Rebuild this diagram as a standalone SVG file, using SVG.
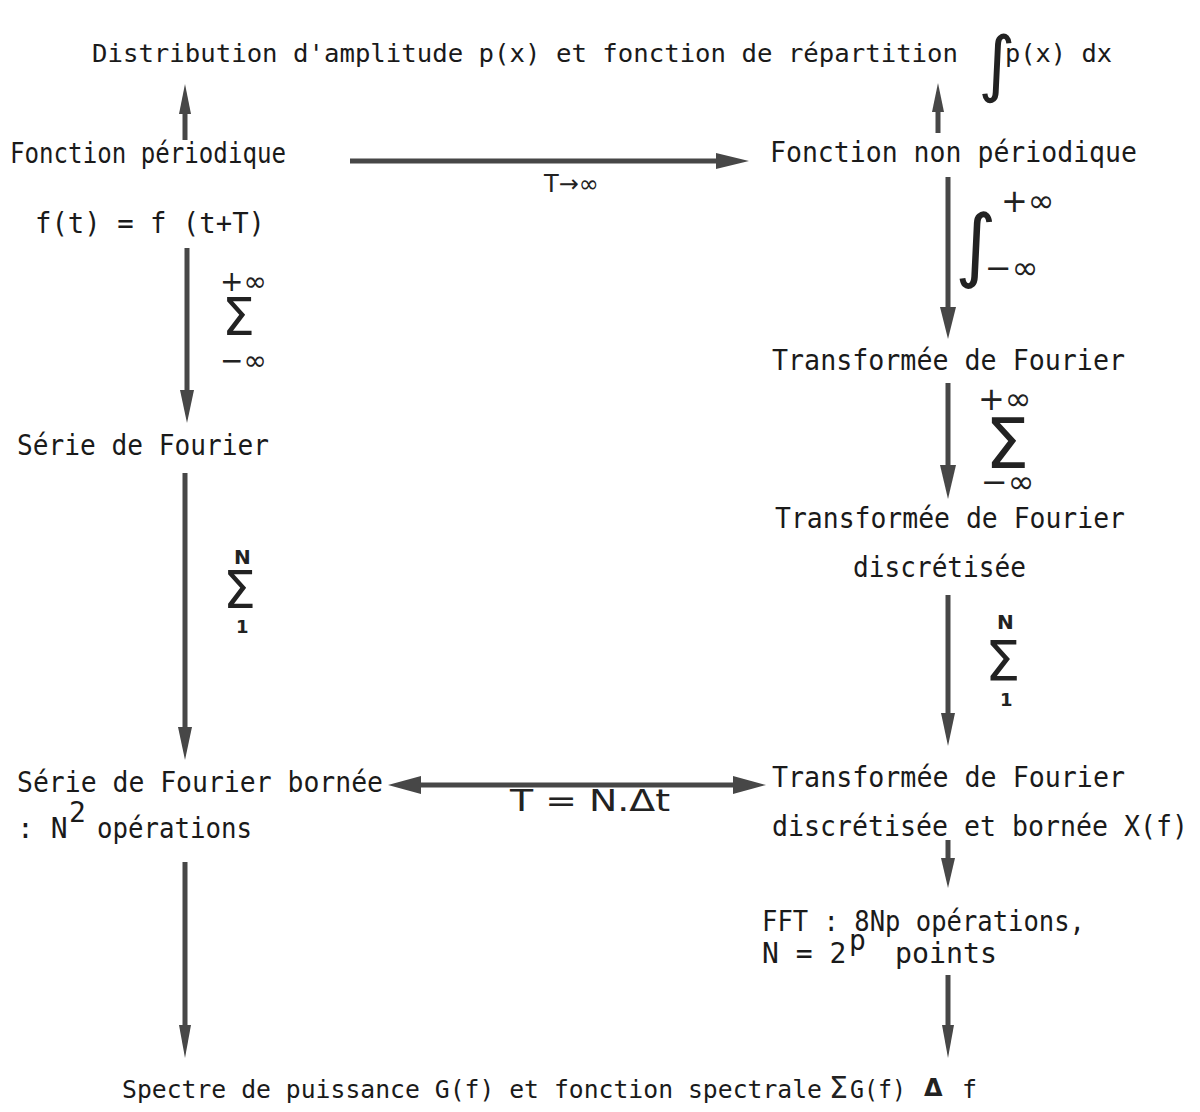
<svg xmlns="http://www.w3.org/2000/svg" width="1200" height="1112" viewBox="0 0 1200 1112">
<style>
.t{font-family:"DejaVu Sans Mono","Liberation Mono",monospace;font-size:28px;fill:#1a1a1a}
.s{font-family:"DejaVu Sans Mono","Liberation Mono",monospace;font-size:25px;fill:#1a1a1a}
.h{font-family:"DejaVu Sans","Liberation Sans",sans-serif;fill:#222}
.sh{stroke:#474747;stroke-width:5;fill:none}
.hd{fill:#474747}
</style>
<rect width="1200" height="1112" fill="#fff"/>

<g id="n-distribution">
<text class="s" x="92" y="62" textLength="866" lengthAdjust="spacingAndGlyphs">Distribution d'amplitude p(x) et fonction de répartition</text>
<text class="h" x="978" y="88" font-size="72" font-style="italic">∫</text>
<text class="s" x="1005" y="62" textLength="107" lengthAdjust="spacingAndGlyphs">p(x) dx</text>
</g>

<g id="n-periodique">
<text class="t" x="10" y="163" textLength="276" lengthAdjust="spacingAndGlyphs">Fonction périodique</text>
<text class="t" x="35" y="233" textLength="230" lengthAdjust="spacingAndGlyphs">f(t) = f (t+T)</text>
</g>

<g id="n-serie">
<text class="t" x="17" y="455" textLength="252" lengthAdjust="spacingAndGlyphs">Série de Fourier</text>
</g>

<g id="n-serie-bornee">
<text class="t" x="17" y="792" textLength="366" lengthAdjust="spacingAndGlyphs">Série de Fourier bornée</text>
<text class="t" x="17" y="838">: N</text>
<text class="t" x="69" y="822" font-size="22">2</text>
<text class="t" x="97" y="838" textLength="155" lengthAdjust="spacingAndGlyphs">opérations</text>
</g>

<g id="n-non-periodique">
<text class="t" x="770" y="162" textLength="367" lengthAdjust="spacingAndGlyphs">Fonction non périodique</text>
</g>

<g id="n-tf">
<text class="t" x="772" y="370" textLength="353" lengthAdjust="spacingAndGlyphs">Transformée de Fourier</text>
</g>

<g id="n-tfd">
<text class="t" x="775" y="528" textLength="350" lengthAdjust="spacingAndGlyphs">Transformée de Fourier</text>
<text class="t" x="853" y="577" textLength="173" lengthAdjust="spacingAndGlyphs">discrétisée</text>
</g>

<g id="n-tfdb">
<text class="t" x="772" y="787" textLength="353" lengthAdjust="spacingAndGlyphs">Transformée de Fourier</text>
<text class="t" x="772" y="836" textLength="416" lengthAdjust="spacingAndGlyphs">discrétisée et bornée X(f)</text>
</g>

<g id="n-fft">
<text class="t" x="762" y="931" textLength="323" lengthAdjust="spacingAndGlyphs">FFT : 8Np opérations,</text>
<text class="t" x="762" y="963">N = 2</text>
<text class="t" x="849" y="950" font-size="19">p</text>
<text class="t" x="895" y="963" textLength="102" lengthAdjust="spacingAndGlyphs">points</text>
</g>

<g id="n-spectre">
<text class="s" x="122" y="1098" textLength="700" lengthAdjust="spacingAndGlyphs">Spectre de puissance G(f) et fonction spectrale</text>
<text class="h" x="829" y="1098" font-size="30">Σ</text>
<text class="s" x="850" y="1098" textLength="56" lengthAdjust="spacingAndGlyphs">G(f)</text>
<text class="h" x="924" y="1096" font-size="24" font-weight="bold">Δ</text>
<text class="s" x="962" y="1098">f</text>
</g>

<g id="connectors">
<line class="sh" x1="185" y1="140" x2="185" y2="110"/>
<polygon class="hd" points="185,84 179,114 191,114"/>
<line class="sh" x1="187" y1="248" x2="187" y2="392"/>
<polygon class="hd" points="187,423 180,390 194,390"/>
<line class="sh" x1="185" y1="473" x2="185" y2="730"/>
<polygon class="hd" points="185,760 178,727 192,727"/>
<line class="sh" x1="185" y1="862" x2="185" y2="1028"/>
<polygon class="hd" points="185,1058 179,1025 191,1025"/>
<line class="sh" x1="938" y1="133" x2="938" y2="108"/>
<polygon class="hd" points="938,83 932,112 944,112"/>
<line class="sh" x1="948" y1="177" x2="948" y2="310"/>
<polygon class="hd" points="948,339 940,307 956,307"/>
<line class="sh" x1="948" y1="383" x2="948" y2="468"/>
<polygon class="hd" points="948,499 940,465 956,465"/>
<line class="sh" x1="948" y1="595" x2="948" y2="715"/>
<polygon class="hd" points="948,746 941,713 955,713"/>
<line class="sh" x1="948" y1="840" x2="948" y2="862"/>
<polygon class="hd" points="948,888 941,858 955,858"/>
<line class="sh" x1="948" y1="975" x2="948" y2="1028"/>
<polygon class="hd" points="948,1058 942,1025 954,1025"/>
<line class="sh" x1="350" y1="161" x2="720" y2="161" stroke-width="6"/>
<polygon class="hd" points="749,161 716,153 716,169"/>
<line class="sh" x1="418" y1="785" x2="735" y2="785" stroke-width="6"/>
<polygon class="hd" points="388,785 421,776 421,794"/>
<polygon class="hd" points="766,785 733,776 733,794"/>
</g>

<g id="labels">
<text class="h" x="544" y="192" font-size="24">T→∞</text>
<text class="h" x="510" y="811" font-size="30" textLength="160" lengthAdjust="spacingAndGlyphs">T = N.Δt</text>
<text class="h" x="220" y="291" font-size="28">+∞</text>
<text class="h" x="222" y="335" font-size="52">Σ</text>
<text class="h" x="220" y="370" font-size="28">−∞</text>
<text class="h" x="234" y="564" font-size="20" font-weight="bold">N</text>
<text class="h" x="223" y="608" font-size="52">Σ</text>
<text class="h" x="236" y="633" font-size="18" font-weight="bold">1</text>
<text class="h" x="955" y="272" font-size="80" font-style="italic">∫</text>
<text class="h" x="1001" y="212" font-size="32">+∞</text>
<text class="h" x="985" y="279" font-size="32">−∞</text>
<text class="h" x="978" y="410" font-size="32">+∞</text>
<text class="h" x="985" y="468" font-size="70">Σ</text>
<text class="h" x="981" y="493" font-size="32">−∞</text>
<text class="h" x="997" y="629" font-size="20" font-weight="bold">N</text>
<text class="h" x="985" y="680" font-size="56">Σ</text>
<text class="h" x="1000" y="706" font-size="18" font-weight="bold">1</text>
</g>
</svg>
